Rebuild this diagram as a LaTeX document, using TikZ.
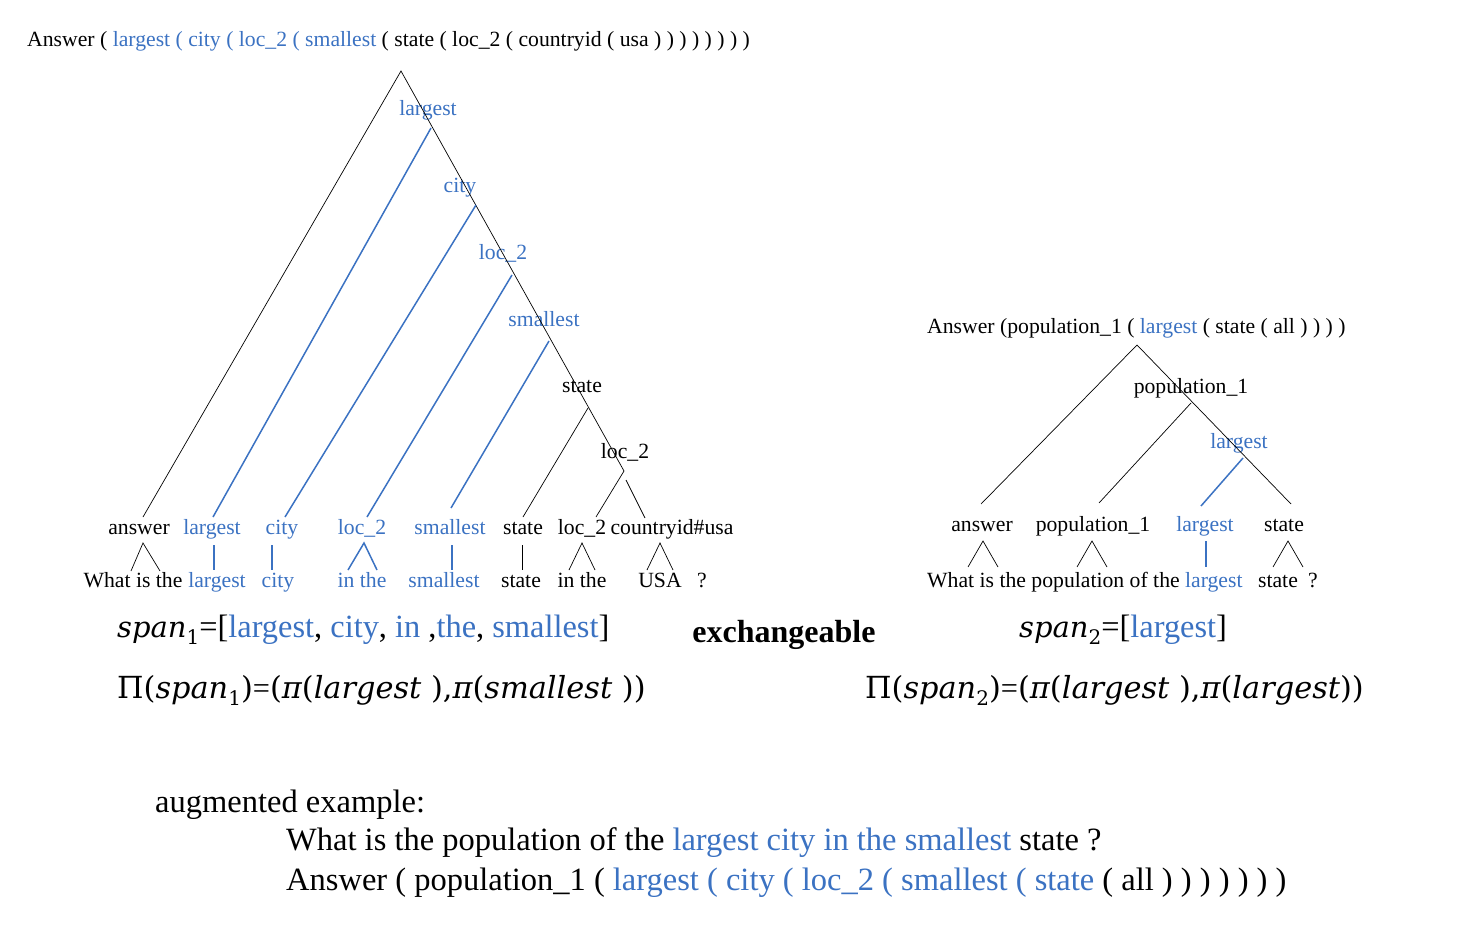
\documentclass[tikz,border=0pt]{standalone}
\usepackage{fontspec}
\setmainfont{Liberation Serif}
\newfontfamily\mfont{DejaVu Serif}
\definecolor{qb}{HTML}{3B72C2}
\newcommand{\B}[1]{\textcolor{qb}{#1}}
\newcommand{\mi}[1]{{\mfont\itshape #1}}
\newcommand{\msub}[1]{\raisebox{-0.25em}{\mfont\fontsize{20}{22}\selectfont #1}}
\begin{document}
\begin{tikzpicture}[x=1pt,y=-1pt,
  t/.style={inner sep=0pt, anchor=base, font=\fontsize{21.7}{26}\selectfont},
  tl/.style={t, anchor=base west},
  bt/.style={t, text=qb},
  big/.style={inner sep=0pt, anchor=base west, font=\fontsize{32.4}{36}\selectfont},
  bigm/.style={inner sep=0pt, anchor=base west, font=\fontsize{30.4}{36}\selectfont},
  huge/.style={inner sep=0pt, anchor=base west, font=\fontsize{32.5}{38}\selectfont},
  ln/.style={black, line width=0.7pt},
  bln/.style={qb, line width=1.5pt}]
\useasboundingbox (0,0) rectangle (1460,942);

% ---------- left tree ----------
\node[tl] (top) at (27,47) {Answer ( \B{largest ( city ( loc\_2 ( smallest} ( state ( loc\_2 ( countryid ( usa ) ) ) ) ) ) ) )};

\node[bt] (tlarg) at (428,115) {largest};
\node[bt] (tcity) at (460,192) {city};
\node[bt] (tloc) at (503,259) {loc\_2};
\node[bt] (tsmall) at (544,326) {smallest};
\node[t] (tstate) at (582,392) {state};
\node[t] (tloc2) at (625,458) {loc\_2};

\coordinate (apex) at (401,71);
\coordinate (mainend) at (624,471);
\coordinate (leftend) at (143,517);
\coordinate (b1t) at (431,128); \coordinate (b1b) at (213,517);
\coordinate (b2t) at (476,205); \coordinate (b2b) at (285,517);
\coordinate (b3t) at (512,275); \coordinate (b3b) at (367,517);
\coordinate (b4t) at (549,341); \coordinate (b4b) at (451,508);
\coordinate (s1t) at (588,408); \coordinate (s1b) at (523,517);
\coordinate (l2b) at (596,517);
\coordinate (cut) at (626,480); \coordinate (cub) at (645,518);

\draw[ln] (leftend) -- (apex) -- (mainend);
\draw[ln] (s1t) -- (s1b);
\draw[ln] (mainend) -- (l2b);
\draw[ln] (cut) -- (cub);
\draw[bln] (b1t) -- (b1b);
\draw[bln] (b2t) -- (b2b);
\draw[bln] (b3t) -- (b3b);
\draw[bln] (b4t) -- (b4b);

% middle row
\node[t] (manswer) at (139,534) {answer};
\node[bt] (mlarg) at (212,534) {largest};
\node[bt] (mcity) at (282,534) {city};
\node[bt] (mloc) at (362,534) {loc\_2};
\node[bt] (msmall) at (450,534) {smallest};
\node[t] (mstate) at (523,534) {state};
\node[t] (mloc2) at (582,534) {loc\_2};
\node[t] (mcid) at (672,534) {countryid\#usa};

% bottom row
\node[t] (wwhat) at (133,587) {What is the};
\node[bt] (wlarg) at (217,587) {largest};
\node[bt] (wcity) at (278,587) {city};
\node[bt] (win) at (362,587) {in the};
\node[bt] (wsmall) at (444,587) {smallest};
\node[t] (wstate) at (521,587) {state};
\node[t] (win2) at (582,587) {in the};
\node[t] (wusa) at (660,587) {USA};
\node[t] (wq) at (702,587) {?};

% connectors middle -> bottom
\draw[ln] (131,571) -- (143,543) -- (160,571);
\draw[bln] (214,545) -- (214,570);
\draw[bln] (272,545) -- (272,570);
\draw[bln] (348,570) -- (364,543) -- (377,570);
\draw[bln] (452,545) -- (452,570);
\draw[ln] (522,545) -- (522,570);
\draw[ln] (569,570) -- (582,543) -- (595,570);
\draw[ln] (647,570) -- (660,543) -- (673,570);

% ---------- right tree ----------
\node[tl] (rtop) at (927,333) {Answer (population\_1 ( \B{largest} ( state ( all ) ) ) )};
\node[t] (rpop) at (1191,393) {population\_1};
\node[bt] (rlarg) at (1239,448) {largest};

\coordinate (rapex) at (1137,345);
\coordinate (rleft) at (981,504);
\coordinate (rright) at (1291,504);
\coordinate (rpt) at (1191,403); \coordinate (rpb) at (1099,503);
\coordinate (rbt) at (1243,458); \coordinate (rbb) at (1201,506);
\draw[ln] (rleft) -- (rapex) -- (rright);
\draw[ln] (rpt) -- (rpb);
\draw[bln] (rbt) -- (rbb);

\node[t] (ranswer) at (982,531) {answer};
\node[t] (rmpop) at (1093,531) {population\_1};
\node[bt] (rmlarg) at (1205,531) {largest};
\node[t] (rmstate) at (1284,531) {state};

\node[tl] (rwhat) at (927,587) {What is the population of the \B{largest}};
\node[t] (rwstate) at (1278,587) {state};
\node[t] (rwq) at (1313,587) {?};

\draw[ln] (968,567) -- (983,541) -- (998,567);
\draw[ln] (1077,567) -- (1092,541) -- (1107,567);
\draw[bln] (1206,541) -- (1206,567);
\draw[ln] (1273,567) -- (1288,541) -- (1303,567);

% ---------- spans ----------
\node[big] (span1) at (117,637) {{\fontsize{29}{36}\selectfont\mi{span}\msub{1}}=[\B{largest}, \B{city}, \B{in} ,\B{the}, \B{smallest}]};
\node[inner sep=0pt, anchor=base, font=\fontsize{32}{36}\selectfont\bfseries] (exch) at (784,642) {exchangeable};
\node[big] (span2) at (1019,637) {{\fontsize{29}{36}\selectfont\mi{span}\msub{2}}=[\B{largest}]};
\node[bigm] (pi1) at (117,698) {{\mfont Π(}\mi{span}\msub{1}{\mfont )}={\mfont (}\mi{π}{\mfont (}\mi{largest}{\mfont\ ),}\mi{π}{\mfont (}\mi{smallest}{\mfont\ ))}};
\node[bigm] (pi2) at (865,698) {{\mfont Π(}\mi{span}\msub{2}{\mfont )}={\mfont (}\mi{π}{\mfont (}\mi{largest}{\mfont\ ),}\mi{π}{\mfont (}\mi{largest}{\mfont ))}};

% ---------- augmented ----------
\node[huge] (aug) at (155,812) {augmented example:};
\node[huge] (asent) at (286,850) {What is the population of the \B{largest city in the smallest} state ?};
\node[huge] (alf) at (286,890) {Answer ( population\_1 ( \B{largest ( city ( loc\_2 ( smallest ( state} ( all ) ) ) ) ) ) )};
\end{tikzpicture}
\end{document}
